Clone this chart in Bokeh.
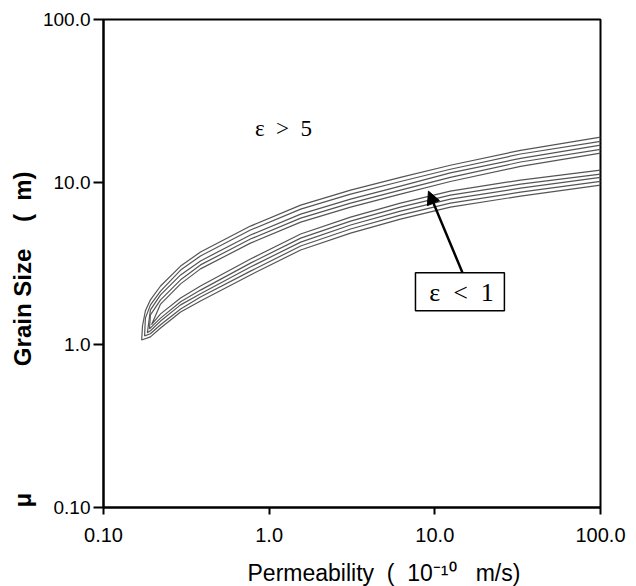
from bokeh.plotting import figure
from bokeh.models import FixedTicker, Label, Arrow, NormalHead, BoxAnnotation, Title
from bokeh.embed import file_html
from bokeh.resources import INLINE

# ---- data ----
x_ticks = [0.1, 1, 10, 100]
x_tick_labels = ["0.10", "1.0", "10.0", "100.0"]
y_ticks = [0.1, 1, 10, 100]
y_tick_labels = ["0.10", "1.0", "10.0", "100.0"]

# contour lines of epsilon, outermost (c0) to innermost (c4):
# upper branch from the right edge to the tip, then the lower branch back to the right edge
c0_x = [100, 32.9, 12.4, 6.2, 3.1, 1.55, 0.771, 0.385, 0.292, 0.221, 0.192, 0.179, 0.172, 0.170,
        0.192, 0.221, 0.292, 0.385, 0.771, 1.55, 3.1, 6.2, 12.4, 32.9, 100]
c0_y = [18.9, 15.7, 12.7, 10.7, 8.93, 7.23, 5.37, 3.72, 3.05, 2.30, 1.89, 1.62, 1.31, 1.07,
        1.12, 1.27, 1.59, 1.86, 2.69, 3.83, 4.86, 5.93, 7.02, 8.21, 9.59]
c1_x = [100, 32.9, 12.4, 6.2, 3.1, 1.55, 0.771, 0.385, 0.292, 0.221, 0.192, 0.179, 0.177,
        0.192, 0.221, 0.292, 0.385, 0.771, 1.55, 3.1, 6.2, 12.4, 32.9, 100]
c1_y = [17.8, 14.9, 12.0, 10.1, 8.44, 6.83, 5.08, 3.52, 2.88, 2.14, 1.76, 1.46, 1.135,
        1.17, 1.33, 1.66, 1.97, 2.84, 4.05, 5.15, 6.27, 7.43, 8.68, 10.1]
c2_x = [100, 32.9, 12.4, 6.2, 3.1, 1.55, 0.771, 0.385, 0.292, 0.221, 0.192, 0.184,
        0.192, 0.221, 0.292, 0.385, 0.771, 1.55, 3.1, 6.2, 12.4, 32.9, 100]
c2_y = [16.9, 14.0, 11.4, 9.45, 7.86, 6.36, 4.73, 3.28, 2.69, 2.03, 1.64, 1.185,
        1.22, 1.40, 1.76, 2.06, 3.01, 4.28, 5.45, 6.64, 7.86, 9.19, 10.7]
c3_x = [100, 32.9, 12.4, 6.2, 3.1, 1.55, 0.771, 0.385, 0.292, 0.221, 0.192, 0.1895,
        0.221, 0.292, 0.385, 0.771, 1.55, 3.1, 6.2, 12.4, 32.9, 100]
c3_y = [15.9, 13.3, 10.7, 8.93, 7.43, 6.01, 4.47, 3.10, 2.51, 1.89, 1.53, 1.254,
        1.46, 1.84, 2.17, 3.18, 4.53, 5.76, 7.02, 8.32, 9.72, 11.2]
c4_x = [100, 32.9, 12.4, 6.2, 3.1, 1.55, 0.771, 0.385, 0.292, 0.221, 0.195,
        0.221, 0.292, 0.385, 0.771, 1.55, 3.1, 6.2, 12.4, 32.9, 100]
c4_y = [15.1, 12.5, 10.1, 8.44, 7.02, 5.68, 4.22, 2.93, 2.37, 1.78, 1.33,
        1.55, 1.94, 2.30, 3.37, 4.80, 6.10, 7.43, 8.81, 10.3, 11.85]

contours = [(c0_x, c0_y), (c1_x, c1_y), (c2_x, c2_y), (c3_x, c3_y), (c4_x, c4_y)]

SANS = "Liberation Sans"
SERIF = "Liberation Serif"
NB = "\u00a0"

p = figure(frame_width=497, frame_height=488,
           x_axis_type="log", y_axis_type="log",
           x_range=(0.1, 100), y_range=(0.1, 100),
           output_backend="svg", toolbar_location=None,
           min_border_left=103, min_border_right=36,
           min_border_top=19, min_border_bottom=79)

p.background_fill_color = "white"
p.border_fill_color = "white"
p.outline_line_color = "black"
p.outline_line_width = 2
p.grid.visible = False

for ax, ticks, labels in ((p.xaxis, x_ticks, x_tick_labels), (p.yaxis, y_ticks, y_tick_labels)):
    ax.ticker = FixedTicker(ticks=ticks)
    ax.major_label_overrides = {t: l for t, l in zip(ticks, labels)}
    ax.axis_line_color = "black"
    ax.axis_line_width = 2
    ax.major_tick_line_color = "black"
    ax.major_tick_line_width = 2
    ax.major_tick_in = 0
    ax.minor_tick_line_color = None
    ax.major_label_text_font = SANS
    ax.major_label_text_color = "black"

p.yaxis.major_label_text_font_size = "19px"
p.xaxis.major_label_text_font_size = "20px"
p.yaxis.major_tick_out = 10
p.yaxis.major_label_standoff = 3
p.xaxis.major_tick_out = 7
p.xaxis.major_label_standoff = 13

for cx, cy in contours:
    p.line(cx, cy, line_color="#555555", line_width=1.2)

# annotations
p.add_layout(Label(x=1.22, y=21.4, text="ε" + NB * 2 + ">" + NB * 2 + "5", text_font=SERIF,
                   text_font_size="23px", text_align="center", text_baseline="middle",
                   text_color="black"))

p.add_layout(BoxAnnotation(left=7.64, right=26.3, bottom=1.62, top=2.77,
                           fill_alpha=0, line_color="black", line_alpha=1.0, line_width=1.5))
p.add_layout(Label(x=14.5, y=2.11, text="ε" + NB * 2 + "<" + NB * 2 + "1", text_font=SERIF,
                   text_font_size="26px", text_align="center", text_baseline="middle",
                   text_color="black"))

p.add_layout(Arrow(end=NormalHead(size=13, fill_color="black", line_color="black"),
                   x_start=14.7, y_start=2.77, x_end=9.15, y_end=8.81,
                   line_width=2.5, line_color="black"))

# axis titles
p.add_layout(Title(text="Permeability" + NB * 2 + "(" + NB * 2 + "10⁻¹⁰" + NB * 3 + "m/s)",
                   align="left", offset=144, standoff=27, text_font=SANS,
                   text_font_size="23px", text_font_style="normal", text_color="black"), "below")
p.add_layout(Title(text="μ" + NB * 19 + "Grain Size" + NB * 4 + "(" + NB * 2 + "m)",
                   align="left", offset=0, standoff=8, text_font=SANS,
                   text_font_size="24px", text_font_style="bold", text_color="black"), "left")

open("out.html", "w").write(file_html(p, INLINE))
